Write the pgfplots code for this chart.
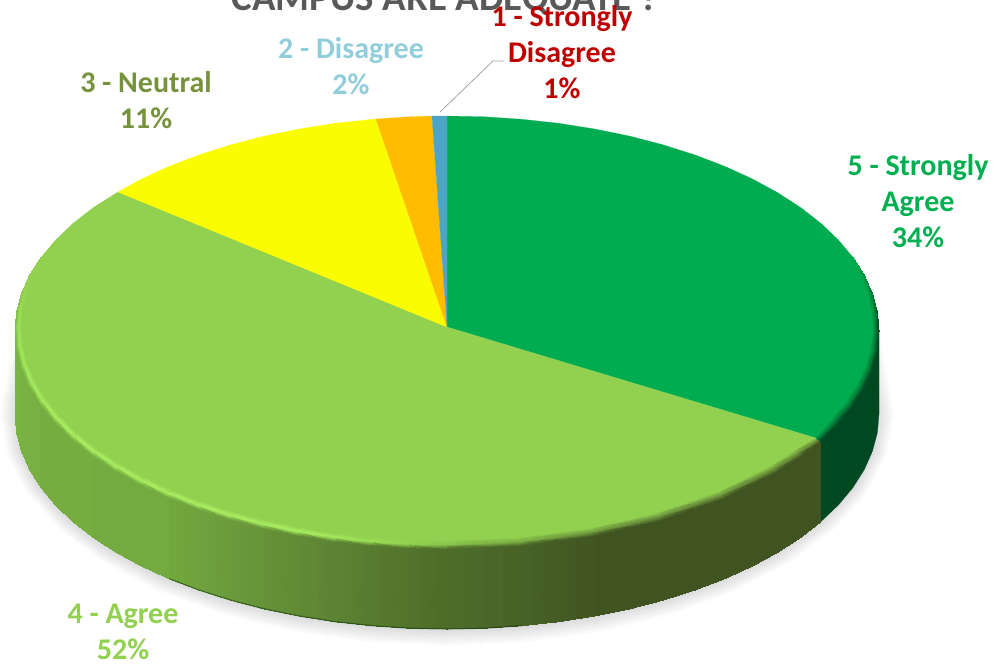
\documentclass[border=0pt]{standalone}
\usepackage{pgfplots}
\pgfplotsset{compat=1.18}
\usepackage{fontspec}
\setmainfont{Carlito}
\definecolor{cGreen}{HTML}{00AC4F}
\definecolor{cLight}{HTML}{92D050}
\definecolor{cYellow}{HTML}{FCFC00}
\definecolor{cOrange}{HTML}{FFBC00}
\definecolor{cBlue}{HTML}{4BA6C6}
\definecolor{cDark}{HTML}{004822}
\tikzset{lbl/.style={font=\fontsize{30}{36}\selectfont\bfseries,align=center,anchor=center}}
\begin{document}
\begin{tikzpicture}
\path[use as bounding box,clip] (0,0) rectangle (997pt,664pt);
\begin{axis}[
  scale only axis,width=997pt,height=664pt,
  xmin=0,xmax=997,ymin=0,ymax=664,y dir=reverse,
  hide axis,clip=false,
]
% soft shadow
\addplot[surf,shader=interp,mesh/color input=explicit,point meta=explicit symbolic,mesh/cols=2] table[meta=c,row sep=crcr]{
x y c\\
853 245.5 1,1,1\\ 868 334 1,1,1\\
872.4 293.7 1,1,1\\ 888.2 373.5 1,1,1\\
879 414 0.87,0.87,0.87\\ 895 414 1,1,1\\
872.4 451.3 0.85,0.85,0.85\\ 888.2 454.5 1,1,1\\
853 487.5 0.85,0.85,0.85\\ 868 493.7 1,1,1\\
821.1 521.5 0.85,0.85,0.85\\ 835 530.5 1,1,1\\
777.9 552.2 0.85,0.85,0.85\\ 790.2 563.8 1,1,1\\
724.7 578.7 0.85,0.85,0.85\\ 735 592.5 1,1,1\\
663 600.2 0.85,0.85,0.85\\ 671 615.8 1,1,1\\
594.7 616 0.85,0.85,0.85\\ 600.2 632.9 1,1,1\\
522 625.7 0.85,0.85,0.85\\ 524.8 643.5 1,1,1\\
447 629 0.85,0.85,0.85\\ 447 647 1,1,1\\
372 625.7 0.85,0.85,0.85\\ 369.2 643.5 1,1,1\\
299.3 616 0.85,0.85,0.85\\ 293.8 632.9 1,1,1\\
231 600.2 0.85,0.85,0.85\\ 223 615.8 1,1,1\\
169.3 578.7 0.85,0.85,0.85\\ 159 592.5 1,1,1\\
116.1 552.2 0.85,0.85,0.85\\ 103.8 563.8 1,1,1\\
72.9 521.5 0.85,0.85,0.85\\ 59 530.5 1,1,1\\
41 487.5 0.85,0.85,0.85\\ 26 493.7 1,1,1\\
21.6 451.3 0.85,0.85,0.85\\ 5.8 454.5 1,1,1\\
15 414 0.87,0.87,0.87\\ -1 414 1,1,1\\
21.6 293.7 1,1,1\\ 5.8 373.5 1,1,1\\
41 245.5 1,1,1\\ 26 334 1,1,1\\
};
% dark green side
\addplot[fill=cDark,draw=cDark,line width=0.2pt] coordinates {
(821,431) (838.5,421.9) (853,404.5) (864.3,386.6) (872.4,368.3) (877.4,349.7) (879,331)
(879,414) (877.4,432.7) (872.4,451.3) (864.3,469.6) (853,487.5) (838.5,504.9) (821,521.5)} --cycle;
% light green side
\addplot[surf,shader=interp,mesh/color input=explicit,point meta=explicit symbolic,mesh/cols=2] table[meta=c,row sep=crcr]{
x y c\\
15 331 .47,.71,.26\\ 15 414 .47,.71,.26\\
16.6 349.7 .47,.71,.26\\ 16.6 432.7 .47,.71,.26\\
21.6 368.3 .47,.70,.26\\ 21.6 451.3 .47,.70,.26\\
29.7 386.6 .47,.69,.26\\ 29.7 469.6 .47,.69,.26\\
41 404.5 .46,.68,.25\\ 41 487.5 .46,.68,.25\\
55.5 421.9 .46,.68,.25\\ 55.5 504.9 .46,.68,.25\\
72.9 438.5 .46,.68,.25\\ 72.9 521.5 .46,.68,.25\\
93.1 454.3 .45,.67,.25\\ 93.1 537.3 .45,.67,.25\\
116.1 469.2 .45,.67,.25\\ 116.1 552.2 .45,.67,.25\\
141.5 483 .45,.67,.25\\ 141.5 566 .45,.67,.25\\
169.3 495.7 .44,.66,.24\\ 169.3 578.7 .44,.66,.24\\
199.2 507.1 .43,.63,.24\\ 199.2 590.1 .43,.63,.24\\
231 517.2 .42,.60,.23\\ 231 600.2 .42,.60,.23\\
264.4 525.9 .40,.57,.22\\ 264.4 608.9 .40,.57,.22\\
299.3 533 .38,.54,.21\\ 299.3 616 .38,.54,.21\\
335.2 538.7 .36,.51,.20\\ 335.2 621.7 .36,.51,.20\\
372 542.7 .34,.48,.18\\ 372 625.7 .34,.48,.18\\
409.3 545.2 .32,.45,.17\\ 409.3 628.2 .32,.45,.17\\
447 546 .30,.42,.16\\ 447 629 .30,.42,.16\\
484.7 545.2 .29,.40,.155\\ 484.7 628.2 .29,.40,.155\\
522 542.7 .28,.38,.15\\ 522 625.7 .28,.38,.15\\
558.8 538.7 .265,.355,.14\\ 558.8 621.7 .265,.355,.14\\
594.7 533 .25,.33,.13\\ 594.7 616 .25,.33,.13\\
629.6 525.9 .25,.33,.13\\ 629.6 608.9 .25,.33,.13\\
663 517.2 .25,.33,.13\\ 663 600.2 .25,.33,.13\\
694.8 507.1 .25,.33,.13\\ 694.8 590.1 .25,.33,.13\\
724.7 495.7 .25,.33,.13\\ 724.7 578.7 .25,.33,.13\\
752.5 483 .25,.33,.13\\ 752.5 566 .25,.33,.13\\
777.9 469.2 .25,.33,.13\\ 777.9 552.2 .25,.33,.13\\
800.9 454.3 .25,.33,.13\\ 800.9 537.3 .25,.33,.13\\
821 438.5 .25,.33,.13\\ 821 521.5 .25,.33,.13\\
};
% top faces
\addplot[fill=cGreen,draw=cGreen,line width=0.2pt] coordinates {
(447,327) (447,116) (484.7,116.8) (522,119.3) (558.8,123.3) (594.7,129) (629.6,136.1) (663,144.8)
(694.8,154.9) (724.7,166.3) (752.5,179) (777.9,192.8) (800.9,207.7) (821.1,223.5) (838.5,240.1)
(853,257.5) (864.3,275.4) (872.4,293.7) (877.4,312.3) (879,331) (877.4,349.7) (872.4,368.3)
(864.3,386.6) (853,404.5) (838.5,421.9) (819,439)} --cycle;
\addplot[fill=cLight,draw=cLight,line width=0.2pt] coordinates {
(447,327) (819,439) (800.9,454.3) (777.9,469.2) (752.5,483) (724.7,495.7) (694.8,507.1) (663,517.2)
(629.6,525.9) (594.7,533) (558.8,538.7) (522,542.7) (484.7,545.2) (447,546) (409.3,545.2) (372,542.7)
(335.2,538.7) (299.3,533) (264.4,525.9) (231,517.2) (199.2,507.1) (169.3,495.7) (141.5,483) (116.1,469.2)
(93.1,454.3) (72.9,438.5) (55.5,421.9) (41,404.5) (29.7,386.6) (21.6,368.3) (16.6,349.7) (15,331)
(16.6,312.3) (21.6,293.7) (29.7,275.4) (41,257.5) (55.5,240.1) (72.9,223.5) (93.1,207.7) (118,192)} --cycle;
\addplot[fill=cYellow,draw=cYellow,line width=0.2pt] coordinates {
(447,327) (118,192) (141.5,179) (169.3,166.3) (199.2,154.9) (231,144.8) (264.4,136.1) (299.3,129)
(335.2,123.3) (376,119)} --cycle;
\addplot[fill=cOrange,draw=cOrange,line width=0.2pt] coordinates {
(447,327) (376,119) (409.3,116.8) (432,116.1)} --cycle;
\addplot[fill=cBlue,draw=cBlue,line width=0.2pt] coordinates {
(447,327) (432,116.1) (447,116)} --cycle;
% bevel, light green part
\addplot[surf,shader=interp,mesh/color input=explicit,point meta=explicit symbolic,mesh/cols=3] table[meta=c,row sep=crcr]{
x y c\\
41 257.5 .573,.816,.314\\ 44.3 255.9 .573,.816,.314\\ 47.6 254.2 .573,.816,.314\\
29.7 275.4 .57,.80,.30\\ 33.1 273.7 .58,.83,.31\\ 36.5 271.9 .573,.816,.314\\
21.6 293.7 .55,.78,.30\\ 25 291.9 .59,.85,.32\\ 28.5 290 .573,.816,.314\\
16.6 312.3 .50,.74,.28\\ 20.1 310.4 .60,.87,.33\\ 23.6 308.4 .573,.816,.314\\
15 331 .47,.71,.26\\ 18.5 329 .61,.89,.34\\ 22 327 .573,.816,.314\\
16.6 350 .47,.71,.26\\ 20.1 347.8 .62,.90,.35\\ 23.6 345.6 .573,.816,.314\\
21.6 368.9 .47,.70,.26\\ 25 366.5 .63,.91,.36\\ 28.5 364 .573,.816,.314\\
29.7 387.4 .47,.69,.26\\ 33.1 384.8 .64,.92,.37\\ 36.5 382.1 .573,.816,.314\\
41 405.6 .46,.68,.25\\ 44.3 402.7 .65,.92,.37\\ 47.6 399.8 .573,.816,.314\\
55.5 423.1 .46,.68,.25\\ 58.7 420 .66,.93,.38\\ 61.8 417 .573,.816,.314\\
72.9 440 .46,.68,.25\\ 75.9 436.8 .66,.93,.38\\ 78.9 433.5 .573,.816,.314\\
93.1 456 .45,.67,.25\\ 96 452.6 .66,.93,.38\\ 98.8 449.2 .573,.816,.314\\
116.1 471.1 .45,.67,.25\\ 118.8 467.5 .66,.93,.38\\ 121.4 463.9 .573,.816,.314\\
141.5 485.1 .45,.67,.25\\ 144 481.4 .66,.93,.38\\ 146.5 477.6 .573,.816,.314\\
169.3 498 .44,.66,.24\\ 171.6 494.1 .66,.93,.38\\ 173.8 490.2 .573,.816,.314\\
199.2 509.6 .43,.63,.24\\ 201.2 505.6 .66,.93,.38\\ 203.2 501.5 .573,.816,.314\\
231 519.8 .42,.60,.23\\ 232.8 515.7 .66,.93,.38\\ 234.5 511.5 .573,.816,.314\\
264.4 528.6 .40,.57,.22\\ 265.9 524.3 .66,.93,.38\\ 267.4 520 .573,.816,.314\\
299.3 535.9 .38,.54,.21\\ 300.5 531.6 .66,.93,.38\\ 301.6 527.2 .573,.816,.314\\
335.2 541.6 .36,.51,.20\\ 336.1 537.2 .64,.91,.36\\ 337 532.7 .573,.816,.314\\
372 545.7 .34,.48,.18\\ 372.6 541.3 .61,.87,.33\\ 373.2 536.8 .573,.816,.314\\
409.3 548.2 .32,.45,.17\\ 409.6 543.7 .58,.83,.31\\ 409.9 539.2 .573,.816,.314\\
447 549 .30,.42,.16\\ 447 544.5 .53,.76,.29\\ 447 540 .573,.816,.314\\
522 545.7 .28,.38,.15\\ 521.4 541.3 .48,.68,.26\\ 520.8 536.8 .573,.816,.314\\
594.7 535.9 .25,.33,.13\\ 593.6 531.6 .44,.61,.24\\ 592.4 527.2 .573,.816,.314\\
663 519.8 .25,.33,.13\\ 661.3 515.7 .42,.58,.23\\ 659.5 511.5 .573,.816,.314\\
724.7 498 .25,.33,.13\\ 722.5 494.1 .42,.58,.23\\ 720.2 490.2 .573,.816,.314\\
777.9 471.1 .25,.33,.13\\ 775.3 467.5 .42,.58,.23\\ 772.6 463.9 .573,.816,.314\\
800.9 456 .25,.33,.13\\ 798 452.6 .42,.58,.23\\ 795.2 449.2 .573,.816,.314\\
820.5 441 .25,.33,.13\\ 817.8 439 .42,.58,.23\\ 815 437 .573,.816,.314\\
};
% bevel, green part
\addplot[surf,shader=interp,mesh/color input=explicit,point meta=explicit symbolic,mesh/cols=3] table[meta=c,row sep=crcr]{
x y c\\
820.5 441 0,.28,.13\\ 817.8 439 0,.5,.22\\ 815 437 0,.675,.31\\
838.5 423.1 0,.28,.13\\ 835.4 420 0,.5,.22\\ 832.2 417 0,.675,.31\\
853 405.6 0,.28,.13\\ 849.7 402.7 0,.5,.22\\ 846.4 399.8 0,.675,.31\\
864.3 387.4 0,.28,.13\\ 860.9 384.8 0,.5,.22\\ 857.5 382.1 0,.675,.31\\
872.4 368.9 0,.28,.13\\ 869 366.5 0,.5,.22\\ 865.5 364 0,.675,.31\\
877.4 350 0,.28,.13\\ 873.9 347.8 0,.5,.22\\ 870.4 345.6 0,.675,.31\\
879 331 0,.28,.13\\ 875.5 329 0,.5,.22\\ 872 327 0,.675,.31\\
877.4 312.3 0,.35,.16\\ 873.9 310.4 0,.54,.24\\ 870.4 308.4 0,.675,.31\\
872.4 293.7 0,.45,.20\\ 869 291.9 0,.58,.26\\ 865.5 290 0,.675,.31\\
864.3 275.4 0,.58,.26\\ 860.9 273.7 0,.63,.28\\ 857.5 271.9 0,.675,.31\\
853 257.5 0,.675,.31\\ 849.7 255.9 0,.675,.31\\ 846.4 254.2 0,.675,.31\\
};
% bottom edge darkening
\addplot[no marks,color=black!60!green!40!black,line width=1.2pt,opacity=.45] coordinates {
(169.3,578.7) (199.2,590.1) (231,600.2) (264.4,608.9) (299.3,616) (335.2,621.7) (372,625.7) (409.3,628.2) (447,629) (484.7,628.2) (522,625.7)};
% leader
\addplot[no marks,color=black!35,line width=0.8pt] coordinates {(440,112) (493,61) (504,61)};
% texts
\node[font=\fontsize{38.8}{38.8}\selectfont\bfseries,text=black!65,anchor=base] at (axis cs:445,10) {CAMPUS ARE ADEQUATE ?};
\node[lbl,text={rgb,255:red,192;green,0;blue,0}] at (axis cs:562,52.5) {1 - Strongly\\Disagree\\1\%};
\node[lbl,text={rgb,255:red,146;green,205;blue,220}] at (axis cs:351,66.5) {2 - Disagree\\2\%};
\node[lbl,text={rgb,255:red,118;green,146;blue,60}] at (axis cs:146,100.5) {3 - Neutral\\11\%};
\node[lbl,text={rgb,255:red,0;green,176;blue,80}] at (axis cs:918,201.5) {5 - Strongly\\Agree\\34\%};
\node[lbl,text=cLight] at (axis cs:123,631.5) {4 - Agree\\52\%};
\end{axis}
\end{tikzpicture}
\end{document}
